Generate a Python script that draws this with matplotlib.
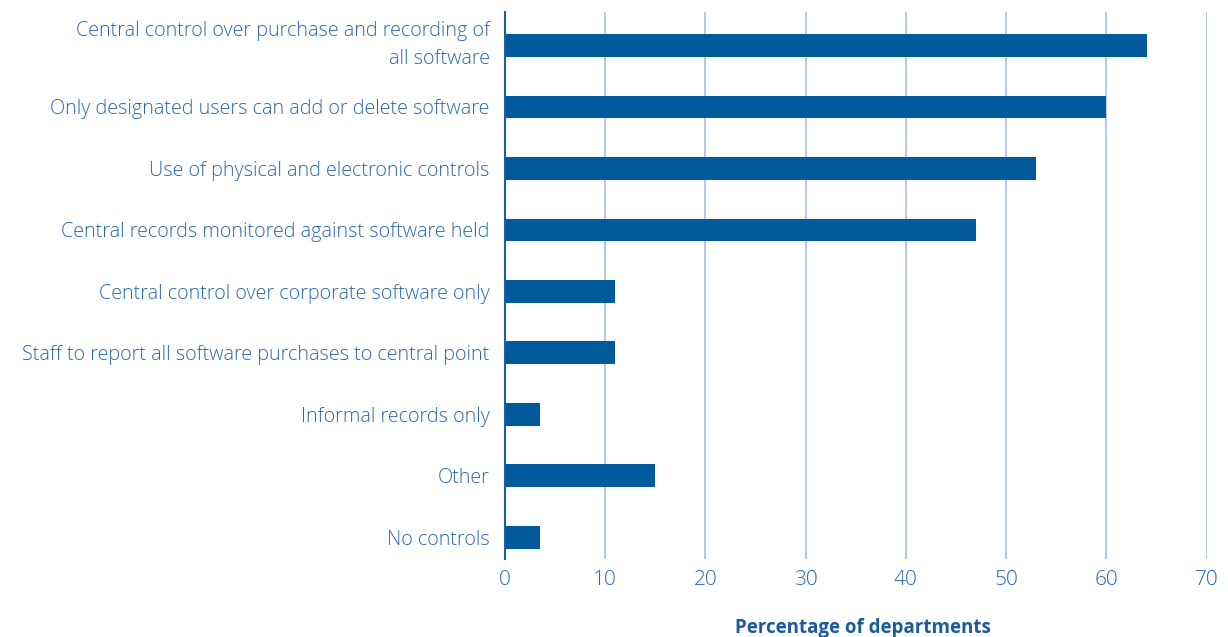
import matplotlib
matplotlib.use("Agg")
import matplotlib.pyplot as plt
from matplotlib.transforms import ScaledTranslation

categories = [
    "Central control over purchase and recording of\nall software",
    "Only designated users can add or delete software",
    "Use of physical and electronic controls",
    "Central records monitored against software held",
    "Central control over corporate software only",
    "Staff to report all software purchases to central point",
    "Informal records only",
    "Other",
    "No controls",
]
percentages = [64, 60, 53, 47, 11, 11, 3.5, 15, 3.5]
x_ticks = [0, 10, 20, 30, 40, 50, 60, 70]
x_label = "Percentage of departments"

bar_color = "#005A9C"
text_color = "#2868AA"
grid_color = "#A9BEDF"
axis_color = "#1F5D9C"

plt.rcParams["font.family"] = ["Open Sans", "DejaVu Sans"]

fig = plt.figure(figsize=(12.28, 6.37), dpi=100)
W, H = 1228, 637
left, right, top, bottom = 505, 1206.7, 11.7, 559.3
ax = fig.add_axes([left / W, 1 - bottom / H, (right - left) / W, (bottom - top) / H])

n = len(categories)
ypos = [n - 1 - i for i in range(n)]
ax.barh(ypos, percentages, height=0.37, color=bar_color, zorder=3)

ax.set_xlim(0, 70)
ax.set_ylim(-0.36, n - 1 + 0.55)
ax.set_xticks(x_ticks)
ax.set_xticklabels([str(t) for t in x_ticks], fontsize=15, color=text_color,
                   fontweight="light")
ax.set_yticks(ypos)
ax.set_yticklabels(categories, fontsize=14.2, color=text_color, linespacing=1.55,
                   fontweight="light")
ax.tick_params(axis="both", length=0)
ax.tick_params(axis="y", pad=11)
ax.tick_params(axis="x", pad=8)

# lift the two-line label a few pixels
top_tick = ax.yaxis.get_major_ticks()[0]
top_tick.label1.set_transform(top_tick.label1.get_transform()
                              + ScaledTranslation(0, 7 / 100, fig.dpi_scale_trans))

for t in x_ticks[1:]:
    ax.axvline(t, color=grid_color, lw=1.2, zorder=1)

for s in ["top", "right", "bottom"]:
    ax.spines[s].set_visible(False)
ax.spines["left"].set_color(axis_color)
ax.spines["left"].set_linewidth(1.5)
ax.spines["left"].set_zorder(4)

ax.set_xlabel(x_label, fontsize=13.5, fontweight="bold", color="#1C5A98")
ax.xaxis.set_label_coords((863 - left) / (right - left), -(628 - bottom) / (bottom - top))
ax.xaxis.label.set_va("center")

fig.savefig("out.png", dpi=100)
